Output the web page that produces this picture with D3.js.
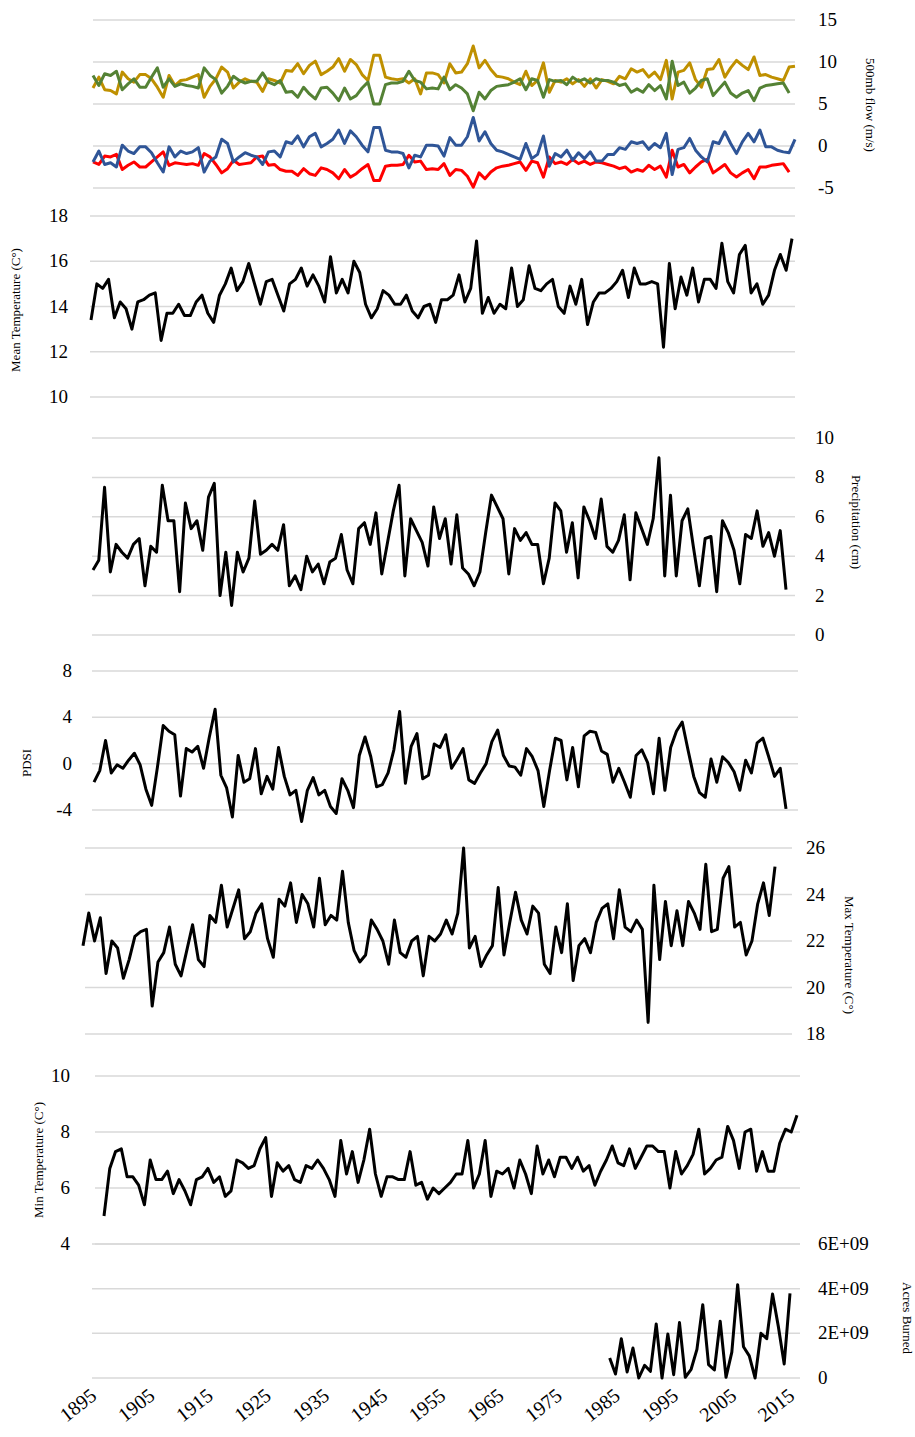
<!DOCTYPE html>
<html><head><meta charset="utf-8">
<script src="https://cdn.jsdelivr.net/npm/d3@7"></script>
<style>body{margin:0;background:#fff}</style>
</head><body><svg id="chart" width="915" height="1437"></svg>
<script>
// yearly series, 1895 onward
const flowGold = [6.9,8.2,6.7,6.6,6.2,8.8,8.0,7.6,8.5,8.5,8.0,7.0,5.8,8.4,7.2,7.8,7.9,8.2,8.5,5.8,7.1,8.0,9.4,8.8,6.9,7.6,8.0,7.7,7.6,6.5,8.0,7.8,7.5,9.0,8.9,9.8,8.6,9.6,10.1,8.5,8.9,9.4,10.4,8.9,10.3,9.7,8.5,7.8,10.8,10.8,8.2,8.0,7.9,8.0,7.5,8.0,6.2,8.7,8.7,8.5,7.5,9.8,8.7,8.8,9.8,11.9,9.3,10.2,9.1,8.3,8.2,8.0,7.6,7.3,8.9,7.2,7.8,9.9,6.4,7.8,7.6,8.0,7.4,7.9,7.1,8.0,6.9,7.9,7.7,7.4,8.3,8.0,9.2,8.8,9.1,8.2,8.8,7.9,10.2,5.6,8.8,9.0,9.9,7.9,7.0,9.1,9.2,10.3,8.2,9.3,10.2,9.6,9.1,10.6,8.4,8.5,8.2,8.0,7.8,9.4,9.5];
const flowGreen = [8.4,7.2,8.6,8.4,8.9,6.7,7.4,8.0,7.0,7.0,8.2,9.3,7.0,8.0,7.1,7.4,7.2,7.1,6.9,9.3,8.4,7.9,6.3,7.1,8.3,7.8,7.5,7.7,7.7,8.7,7.6,7.3,7.8,6.4,6.5,5.8,7.0,6.2,5.6,6.9,7.0,6.3,5.4,6.9,5.6,6.0,6.9,7.6,5.0,5.0,7.3,7.5,7.5,7.7,8.9,7.8,7.6,6.8,6.9,6.8,8.2,6.7,7.3,6.9,6.2,4.2,6.4,5.6,6.6,7.1,7.2,7.3,7.6,8.0,6.7,8.0,7.8,5.8,7.9,7.7,7.8,7.3,8.2,7.7,8.0,7.5,8.0,7.8,7.8,7.6,7.2,7.4,6.4,6.8,6.4,7.3,6.6,7.2,5.6,10.1,7.2,7.6,6.3,6.9,7.8,8.0,6.0,6.8,7.6,6.3,5.8,6.3,6.6,5.4,6.9,7.2,7.3,7.4,7.5,6.3];
const flowBlue = [-1.9,-0.6,-2.2,-2.0,-2.5,0.1,-0.6,-0.9,-0.1,-0.1,-0.8,-2.0,-3.1,-0.1,-1.3,-0.6,-0.9,-0.7,-0.2,-3.1,-1.8,-1.3,0.8,0.3,-1.9,-1.3,-0.8,-1.1,-1.3,-2.2,-0.7,-0.6,-1.3,0.5,0.3,1.2,-0.1,1.1,1.5,-0.1,0.3,0.8,1.9,0.3,1.8,1.1,0.1,-0.7,2.2,2.2,-0.5,-0.7,-0.7,-0.9,-2.6,-1.1,-1.3,0.1,0.1,0.0,-1.2,1.0,0.1,0.1,1.1,3.4,0.6,1.7,0.3,-0.5,-0.7,-1.0,-1.3,-1.6,0.3,-1.5,-1.0,1.2,-2.4,-0.9,-1.3,-0.5,-1.7,-0.8,-1.5,-0.7,-1.8,-1.8,-1.0,-1.0,-0.2,-0.4,0.5,0.3,0.5,-0.4,0.3,-0.2,1.5,-3.4,-0.4,-0.2,0.9,-0.5,-1.3,-1.9,0.5,0.3,1.7,0.3,-0.9,0.5,1.5,0.5,1.9,-0.1,-0.1,-0.5,-0.7,-0.8,0.8];
const flowRed = [-1.9,-2.2,-1.2,-1.3,-1.0,-2.8,-2.3,-1.9,-2.5,-2.5,-1.9,-1.3,-0.7,-2.3,-2.0,-2.1,-2.2,-2.1,-2.3,-0.9,-1.3,-2.2,-3.2,-2.7,-1.7,-2.2,-2.1,-2.0,-1.3,-1.2,-2.3,-2.2,-2.8,-3.0,-3.0,-3.5,-2.7,-3.3,-3.5,-2.6,-2.8,-3.2,-3.9,-2.8,-3.7,-3.3,-2.7,-2.2,-4.1,-4.1,-2.4,-2.3,-2.3,-2.2,-1.1,-1.9,-1.8,-2.8,-2.7,-2.8,-2.1,-3.5,-2.8,-2.9,-3.6,-4.9,-3.2,-3.9,-3.1,-2.6,-2.4,-2.3,-2.1,-1.9,-2.9,-1.8,-2.0,-3.7,-1.3,-2.1,-1.9,-2.2,-1.6,-2.1,-1.8,-2.2,-1.9,-2.0,-2.2,-2.4,-2.7,-2.5,-3.1,-2.8,-3.0,-2.3,-2.8,-2.4,-3.7,-0.5,-2.5,-2.2,-3.2,-2.5,-1.9,-1.6,-3.2,-2.7,-2.2,-3.2,-3.7,-3.2,-2.8,-3.9,-2.5,-2.5,-2.3,-2.2,-2.1,-3.1];
const meanTemp = [13.4,15.0,14.8,15.2,13.5,14.2,13.9,13.0,14.2,14.3,14.5,14.6,12.5,13.7,13.7,14.1,13.6,13.6,14.2,14.5,13.7,13.3,14.5,15.0,15.7,14.7,15.1,15.9,15.0,14.1,15.1,15.2,14.5,13.8,15.0,15.2,15.7,14.9,15.4,14.9,14.2,16.2,14.6,15.2,14.6,16.0,15.5,14.1,13.5,13.9,14.7,14.5,14.1,14.1,14.5,13.8,13.5,14.0,14.1,13.3,14.3,14.3,14.5,15.4,14.2,14.8,16.9,13.7,14.4,13.7,14.1,13.9,15.7,14.0,14.3,15.8,14.8,14.7,15.0,15.2,14.0,13.7,14.9,14.1,15.2,13.2,14.2,14.6,14.6,14.8,15.1,15.6,14.4,15.7,15.0,15.0,15.1,15.0,12.2,15.9,13.9,15.3,14.5,15.7,14.2,15.2,15.2,14.8,16.8,15.1,14.6,16.3,16.7,14.6,15.0,14.1,14.5,15.6,16.3,15.6,17.0];
const precip = [3.3,3.8,7.5,3.2,4.6,4.2,3.9,4.6,4.9,2.5,4.5,4.2,7.6,5.8,5.8,2.2,6.7,5.4,5.8,4.3,7.0,7.7,2.0,4.2,1.5,4.2,3.2,3.9,6.8,4.1,4.3,4.6,4.3,5.6,2.5,3.0,2.3,4.0,3.2,3.6,2.6,3.7,3.9,5.1,3.3,2.6,5.4,5.7,4.6,6.2,3.1,4.7,6.3,7.6,3.0,5.9,5.3,4.7,3.5,6.5,4.9,5.9,3.6,6.1,3.4,3.1,2.5,3.2,5.2,7.1,6.5,5.9,3.1,5.4,4.8,5.2,4.6,4.6,2.6,3.9,6.7,6.3,4.2,5.7,2.9,6.5,5.8,4.9,6.9,4.5,4.2,4.8,6.1,2.8,6.2,5.4,4.6,5.9,9.0,3.0,7.1,3.0,5.8,6.4,4.4,2.5,4.9,5.0,2.2,5.8,5.2,4.3,2.6,5.1,4.9,6.3,4.5,5.2,4.0,5.3,2.3];
const pdsi = [-1.6,-0.6,2.0,-0.8,-0.1,-0.4,0.3,0.9,-0.1,-2.2,-3.6,-0.3,3.3,2.8,2.5,-2.8,1.3,1.0,1.5,-0.4,2.3,4.7,-1.0,-2.1,-4.6,0.7,-1.6,-1.3,1.3,-2.6,-1.1,-2.2,1.4,-1.1,-2.7,-2.3,-5.0,-2.3,-1.2,-2.7,-2.3,-3.7,-4.3,-1.3,-2.3,-3.8,0.7,2.3,0.6,-2.0,-1.8,-0.8,1.2,4.5,-1.7,1.5,2.6,-1.3,-1.0,1.7,1.4,2.5,-0.4,0.4,1.3,-1.4,-1.7,-0.8,0.0,1.9,2.9,0.7,-0.2,-0.3,-1.0,1.3,0.6,-0.6,-3.7,-0.6,2.2,2.0,-1.4,1.4,-2.0,2.4,2.8,2.7,1.1,0.8,-1.6,-0.4,-1.6,-2.9,0.7,1.2,0.1,-2.6,2.2,-2.3,1.4,2.8,3.6,1.2,-1.1,-2.5,-2.9,0.4,-1.6,0.6,0.1,-0.7,-2.3,0.3,-0.8,1.8,2.2,0.6,-1.1,-0.4,-3.9];
const maxTemp = [21.8,23.2,22.0,23.0,20.6,22.0,21.7,20.4,21.2,22.2,22.4,22.5,19.2,21.1,21.5,22.6,21.0,20.5,21.6,22.7,21.2,20.9,23.1,22.8,24.4,22.6,23.4,24.2,22.1,22.4,23.2,23.6,22.1,21.3,23.8,23.5,24.5,22.8,24.0,23.6,22.6,24.7,22.7,23.1,22.9,25.0,22.8,21.6,21.1,21.4,22.9,22.5,22.0,21.0,22.9,21.5,21.3,22.0,22.2,20.5,22.2,22.0,22.3,22.9,22.3,23.2,26.0,21.7,22.2,20.9,21.4,21.8,24.3,21.4,22.8,24.1,22.9,22.3,23.5,23.2,21.0,20.6,22.6,21.5,23.6,20.3,21.8,22.1,21.5,22.8,23.4,23.6,22.1,24.2,22.6,22.4,22.9,22.5,18.5,24.4,21.2,23.7,21.8,23.3,21.8,23.7,23.2,22.5,25.3,22.4,22.5,24.7,25.2,22.6,22.8,21.4,22.0,23.6,24.5,23.1,25.2];
const minTemp = [5.0,6.7,7.3,7.4,6.4,6.4,6.1,5.4,7.0,6.3,6.3,6.6,5.8,6.3,5.9,5.4,6.3,6.4,6.7,6.2,6.4,5.7,5.9,7.0,6.9,6.7,6.8,7.4,7.8,5.7,6.9,6.6,6.8,6.3,6.2,6.8,6.7,7.0,6.7,6.3,5.7,7.7,6.5,7.3,6.2,7.0,8.1,6.5,5.7,6.4,6.4,6.3,6.3,7.3,6.1,6.2,5.6,6.0,5.8,6.0,6.2,6.5,6.5,7.7,6.0,6.5,7.7,5.7,6.6,6.5,6.7,6.0,7.0,6.5,5.8,7.5,6.5,7.0,6.4,7.1,7.1,6.7,7.1,6.6,6.8,6.1,6.6,7.0,7.5,6.9,6.8,7.4,6.7,7.1,7.5,7.5,7.3,7.3,6.0,7.3,6.5,6.8,7.2,8.1,6.5,6.7,7.0,7.1,8.2,7.7,6.7,8.0,8.1,6.6,7.3,6.6,6.6,7.6,8.1,8.0,8.6];
const acresStart = 1984;
const acres = [0.90e9,0.18e9,1.76e9,0.27e9,1.34e9,0,0.57e9,0.30e9,2.42e9,0,1.97e9,0.15e9,2.48e9,0.03e9,0.39e9,1.28e9,3.28e9,0.60e9,0.36e9,2.54e9,0.03e9,1.16e9,4.18e9,1.40e9,0.99e9,0,2.0e9,1.76e9,3.76e9,2.30e9,0.63e9,3.79e9];
const yearTicks = [1895,1905,1915,1925,1935,1945,1955,1965,1975,1985,1995,2005,2015];

const svg = d3.select("#chart");
const font = "Liberation Serif, Times New Roman, serif";

function addPanel(p) {
  const x = d3.scaleLinear().domain([1895, 2015]).range([p.x0, p.x1]);
  const y = d3.scaleLinear().domain(p.domain).range([p.y0, p.y1]);
  const g = svg.append("g");
  // gridlines
  g.selectAll("line.grid").data(p.ticks).enter().append("line")
    .attr("x1", p.g0).attr("x2", p.g1)
    .attr("y1", d => y(d)).attr("y2", d => y(d))
    .style("stroke", "#d9d9d9").style("stroke-width", 1.5);
  // tick labels
  const right = p.side == "R";
  g.selectAll("text.tick").data(p.ticks).enter().append("text")
    .attr("x", p.lx)
    .attr("y", d => y(d) + 6)
    .attr("text-anchor", right ? "start" : "end")
    .style("font-family", font).style("font-size", "19px")
    .text(p.fmt || (d => d));
  g.append("text")
    .attr("transform", `translate(${p.tx},${p.ty}) rotate(${right ? 90 : -90})`)
    .attr("text-anchor", "middle")
    .style("font-family", font).style("font-size", "13px")
    .text(p.title);
  const line = d3.line().x(d => x(d[0])).y(d => y(d[1]));
  p.series.forEach(s => {
    const start = s.start || 1895;
    g.append("path")
      .datum(s.values.map((v, i) => [start + i, v]))
      .attr("d", line)
      .style("fill", "none").style("stroke", s.color)
      .style("stroke-width", 3).style("stroke-linejoin", "round");
  });
  return x;
}

addPanel({ domain: [-5, 15], y0: 188, y1: 20, ticks: [15, 10, 5, 0, -5], side: "R", lx: 818,
  x0: 93, x1: 795, g0: 93, g1: 795, tx: 866, ty: 105, title: "500mb flow (m/s)",
  series: [
    { values: flowGold, color: "#bf9000" }, { values: flowGreen, color: "#548235" },
    { values: flowRed, color: "#ff0000" }, { values: flowBlue, color: "#2f5597" }] });

addPanel({ domain: [10, 18], y0: 397, y1: 216, ticks: [18, 16, 14, 12, 10], side: "L", lx: 68,
  x0: 91, x1: 792, g0: 90, g1: 795, tx: 20, ty: 310, title: "Mean Temperature (C°)",
  series: [{ values: meanTemp, color: "#000" }] });

addPanel({ domain: [0, 10], y0: 635, y1: 438, ticks: [10, 8, 6, 4, 2, 0], side: "R", lx: 815,
  x0: 93, x1: 786, g0: 92, g1: 795, tx: 852, ty: 522, title: "Precipitation (cm)",
  series: [{ values: precip, color: "#000" }] });

addPanel({ domain: [-4, 8], y0: 810, y1: 671, ticks: [8, 4, 0, -4], side: "L", lx: 72,
  x0: 94, x1: 786, g0: 92, g1: 798, tx: 31, ty: 763, title: "PDSI",
  series: [{ values: pdsi, color: "#000" }] });

addPanel({ domain: [18, 26], y0: 1034, y1: 848, ticks: [26, 24, 22, 20, 18], side: "R", lx: 806,
  x0: 83, x1: 775, g0: 85, g1: 792, tx: 845, ty: 955, title: "Max Temperature (C°)",
  series: [{ values: maxTemp, color: "#000" }] });

addPanel({ domain: [4, 10], y0: 1244, y1: 1076, ticks: [10, 8, 6, 4], side: "L", lx: 70,
  x0: 104, x1: 797, g0: 95, g1: 800, tx: 43, ty: 1160, title: "Min Temperature (C°)",
  series: [{ values: minTemp, color: "#000" }] });

const xb = addPanel({ domain: [0, 6e9], y0: 1378, y1: 1244, ticks: [6e9, 4e9, 2e9, 0], side: "R", lx: 818,
  x0: 92, x1: 790, g0: 92, g1: 800, tx: 903, ty: 1318, title: "Acres Burned",
  fmt: d => d == 0 ? "0" : (d / 1e9) + "E+09",
  series: [{ values: acres, color: "#000", start: acresStart }] });

// rotated year labels
svg.append("g").selectAll("text").data(yearTicks).enter().append("text")
  .attr("transform", d => `translate(${xb(d) + 6},${1398}) rotate(-38)`)
  .attr("text-anchor", "end")
  .style("font-family", font).style("font-size", "20px")
  .text(d => d);
</script></body></html>
